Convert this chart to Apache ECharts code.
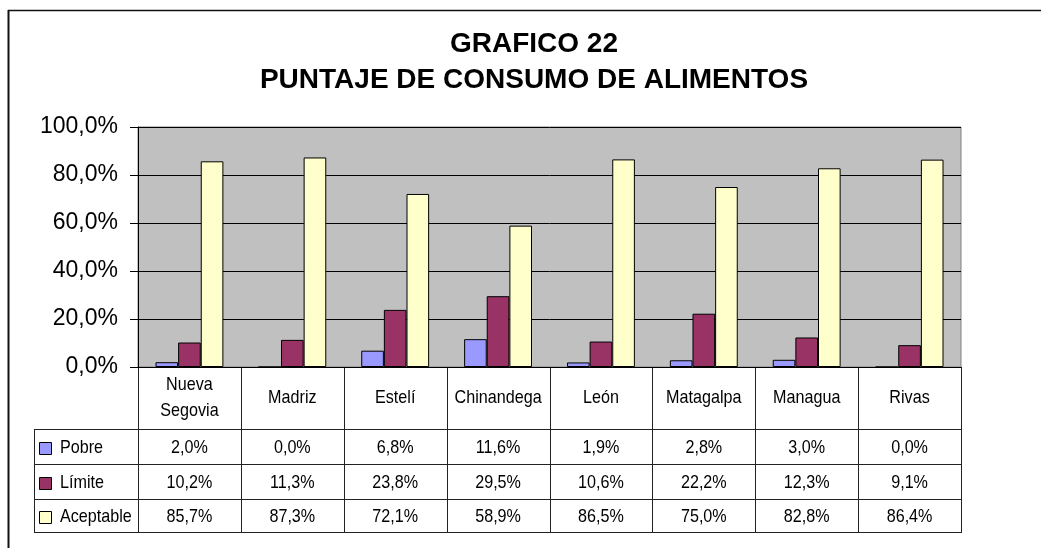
<!DOCTYPE html>
<html>
<head>
<meta charset="utf-8">
<script src="https://cdn.jsdelivr.net/npm/echarts@6/dist/echarts.min.js"></script>
</head>
<body style="margin:0;background:#fff">
<div id="main" style="width:1041px;height:548px"></div>
<script>
const categories = ['Nueva\nSegovia', 'Madriz', 'Estelí', 'Chinandega', 'León', 'Matagalpa', 'Managua', 'Rivas'];
const seriesNames = ['Pobre', 'Límite', 'Aceptable'];
const pobre = [2.0, 0.0, 6.8, 11.6, 1.9, 2.8, 3.0, 0.0];
const limite = [10.2, 11.3, 23.8, 29.5, 10.6, 22.2, 12.3, 9.1];
const aceptable = [85.7, 87.3, 72.1, 58.9, 86.5, 75.0, 82.8, 86.4];
const yTicks = [0, 20, 40, 60, 80, 100];

const colors = ['#9999FF', '#993366', '#FFFFCC'];
const values = [pobre, limite, aceptable];
const font = '"Liberation Sans", Arial, sans-serif';

function pct(v) {
  return v.toFixed(1).replace('.', ',') + '%';
}

const chart = echarts.init(document.getElementById('main'));
const W = chart.getWidth(), H = chart.getHeight();
const grid = { left: 138, right: 80, top: 127, bottom: 181 };
const plotW = W - grid.left - grid.right;
const cellW = plotW / categories.length;
const axisY = H - grid.bottom;
const rowY = [axisY, 429, 464, 499, 532];
const tableLeft = 34;
const tableRight = grid.left + plotW;

// table built from the arrays above
const graphic = [];
const lineStyle = { stroke: '#222', lineWidth: 1 };
function hline(x1, x2, y) {
  graphic.push({ type: 'line', silent: true, shape: { x1: x1, y1: y + 0.5, x2: x2, y2: y + 0.5 }, style: lineStyle });
}
function vline(x, y1, y2) {
  graphic.push({ type: 'line', silent: true, shape: { x1: Math.round(x) + 0.5, y1: y1, x2: Math.round(x) + 0.5, y2: y2 }, style: lineStyle });
}
// excel draws these narrow and tall, so squeeze a bigger font
function text(str, x, y, align) {
  graphic.push({
    type: 'text', silent: true, x: x, y: y, scaleX: 0.85,
    style: { text: str, fill: '#000', font: '19px ' + font, align: align || 'center', verticalAlign: 'middle', lineHeight: 26 }
  });
}

for (let i = 0; i <= categories.length; i++) vline(grid.left + i * cellW, axisY, rowY[4] + 1);
vline(tableLeft, rowY[1], rowY[4] + 1);
for (let r = 1; r <= 4; r++) hline(tableLeft, tableRight + 1, rowY[r]);

categories.forEach(function (c, i) {
  text(c, grid.left + (i + 0.5) * cellW, (rowY[0] + rowY[1]) / 2);
});
seriesNames.forEach(function (name, s) {
  const cy = (rowY[s + 1] + rowY[s + 2]) / 2 + 1.5;
  graphic.push({
    type: 'rect', silent: true,
    shape: { x: 39.5, y: Math.round(cy - 6) + 0.5, width: 12, height: 12 },
    style: { fill: colors[s], stroke: '#000', lineWidth: 1 }
  });
  text(name, 60, cy, 'left');
  values[s].forEach(function (v, i) {
    text(pct(v), grid.left + (i + 0.5) * cellW, cy);
  });
});

// outer chart border
graphic.push({ type: 'line', silent: true, shape: { x1: 8, y1: 10.5, x2: W, y2: 10.5 }, style: { stroke: '#111', lineWidth: 1.5 } });
graphic.push({ type: 'line', silent: true, shape: { x1: 8.5, y1: 10, x2: 8.5, y2: H }, style: { stroke: '#111', lineWidth: 2 } });

graphic.push({
  type: 'text', silent: true, x: 534, y: 26,
  style: {
    text: 'GRAFICO 22\nPUNTAJE DE CONSUMO DE ALIMENTOS',
    fill: '#000', font: 'bold 28px ' + font, align: 'center', verticalAlign: 'top', lineHeight: 36
  }
});

const option = {
  animation: false,
  backgroundColor: '#fff',
  grid: {
    left: grid.left, right: grid.right, top: grid.top, bottom: grid.bottom,
    show: true, backgroundColor: '#C0C0C0', borderColor: '#808080', borderWidth: 1
  },
  xAxis: {
    type: 'category',
    data: categories,
    axisLine: { lineStyle: { color: '#000', width: 1 } },
    axisTick: { show: false },
    axisLabel: { show: false }
  },
  yAxis: {
    type: 'value',
    min: yTicks[0],
    max: yTicks[yTicks.length - 1],
    interval: yTicks[1] - yTicks[0],
    axisLine: { show: true, lineStyle: { color: '#000' } },
    axisTick: { show: true, length: 8, lineStyle: { color: '#000' } },
    splitLine: { lineStyle: { color: '#000', width: 1 } },
    axisLabel: {
      margin: 20, color: '#000', fontSize: 23, fontFamily: font,
      formatter: function (v) { return pct(v); }
    }
  },
  series: seriesNames.map(function (name, s) {
    return {
      name: name,
      type: 'bar',
      data: values[s],
      barGap: '0%',
      barCategoryGap: '34%',
      itemStyle: { color: colors[s], borderColor: '#000', borderWidth: 1 }
    };
  }),
  graphic: graphic
};
chart.setOption(option);
</script>
</body>
</html>
